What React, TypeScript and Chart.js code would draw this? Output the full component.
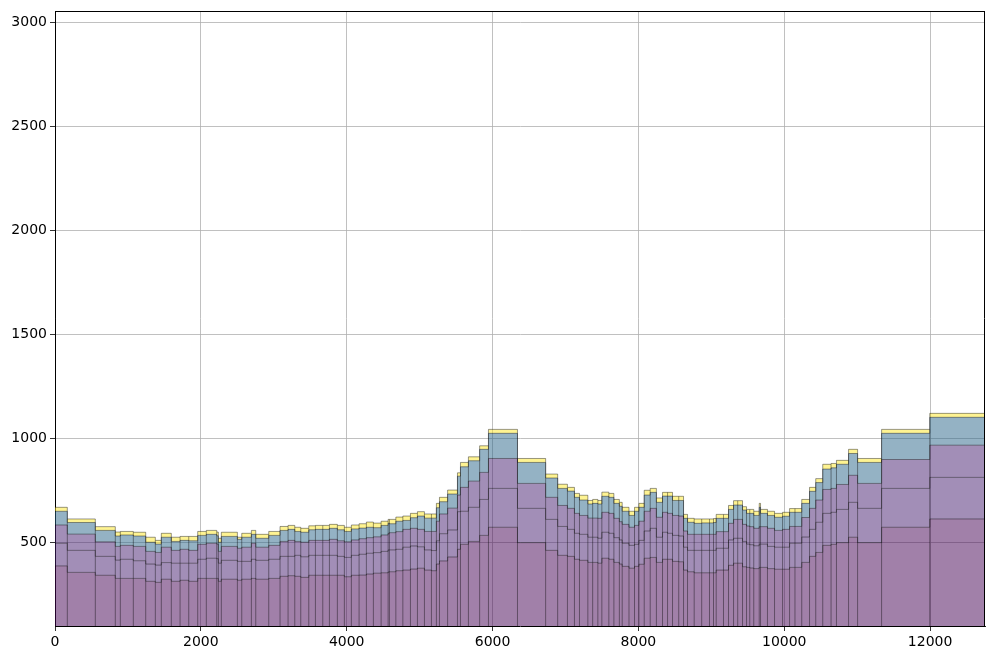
import React, { useEffect, useRef } from "react";
import { Chart, registerables } from "chart.js";

Chart.register(...registerables);

// Bin edges (x values) of the variable-width bars
const BIN_EDGES = [
  0, 169, 553, 827, 896, 1074, 1244, 1376, 1458, 1595, 1715, 1834, 1957, 2075, 2218, 2240, 2281, 2501, 2561, 2693,
  2753, 2931, 3086, 3196, 3288, 3370, 3480, 3571, 3672, 3763, 3872, 3968, 4064, 4170, 4270, 4366, 4472, 4568, 4586,
  4674, 4770, 4874, 4970, 5066, 5162, 5230, 5272, 5384, 5519, 5560, 5669, 5823, 5944, 6342, 6728, 6893, 7027, 7123,
  7192, 7307, 7373, 7444, 7499, 7595, 7664, 7739, 7778, 7871, 7947, 8007, 8080, 8162, 8247, 8331, 8400, 8468, 8553,
  8619, 8674, 8765, 8868, 8975, 9030, 9067, 9167, 9236, 9305, 9362, 9428, 9483, 9527, 9582, 9657, 9675, 9770, 9867,
  9977, 10073, 10147, 10240, 10347, 10432, 10528, 10642, 10716, 10882, 11006, 11335, 11996, 12753,
];

// Stacked series values (bottom to top), one value per bar
const SERIES_1 = [
  385, 354, 340, 325, 325, 325, 311, 306, 321, 311, 316, 311, 325, 325, 325, 311, 321, 316, 321, 325,
  321, 325, 335, 338, 335, 330, 340, 340, 340, 340, 340, 333, 340, 341, 346, 350, 352, 356, 357,
  362, 365, 370, 374, 365, 362, 394, 409, 428, 465, 489, 503, 532, 571, 497, 460, 436, 431, 417,
  412, 402, 402, 398, 422, 417, 402, 394, 383, 374, 383, 393, 422, 426, 402, 417, 417, 407, 405,
  365, 357, 352, 352, 352, 352, 365, 365, 388, 398, 398, 381, 378, 375, 372, 378, 378, 372, 369,
  369, 378, 378, 402, 431, 450, 484, 489, 497, 523, 497, 571, 611,
];
const SERIES_2 = [
  109, 106, 91, 88, 92, 85, 83, 83, 80, 87, 82, 87, 92, 97, 95, 87, 91, 91, 86, 92,
  91, 92, 96, 93, 101, 99, 96, 96, 96, 96, 91, 93, 96, 100, 100, 99, 103, 106, 105,
  103, 110, 111, 103, 97, 97, 112, 131, 130, 181, 159, 164, 173, 187, 165, 149, 139, 130, 125,
  125, 121, 121, 120, 125, 125, 119, 116, 111, 110, 106, 115, 131, 140, 121, 130, 125, 125, 124,
  110, 103, 108, 108, 108, 108, 105, 105, 122, 120, 120, 122, 112, 112, 110, 112, 112, 107, 106,
  106, 116, 116, 122, 130, 145, 154, 154, 160, 168, 165, 187, 200,
];
const SERIES_3 = [
  88, 78, 70, 66, 67, 69, 61, 61, 74, 62, 67, 62, 72, 72, 70, 57, 67, 63, 68, 77,
  63, 67, 72, 77, 67, 70, 72, 72, 72, 77, 75, 75, 74, 75, 75, 76, 79, 80, 83,
  85, 86, 85, 84, 89, 92, 94, 95, 105, 80, 115, 126, 130, 144, 120, 106, 101, 101, 96,
  91, 92, 92, 96, 96, 96, 93, 88, 91, 87, 91, 92, 95, 96, 96, 96, 96, 96, 96,
  78, 77, 77, 77, 77, 77, 80, 80, 80, 91, 91, 82, 87, 87, 84, 84, 84, 87, 81,
  86, 81, 81, 94, 101, 107, 115, 115, 120, 130, 120, 139, 155,
];
const SERIES_4 = [
  66, 56, 55, 50, 50, 50, 44, 40, 48, 43, 43, 46, 43, 43, 40, 44, 48, 43, 48, 43,
  43, 48, 53, 53, 48, 48, 51, 53, 53, 53, 53, 50, 53, 51, 50, 44, 46, 48, 43,
  50, 43, 51, 64, 64, 64, 65, 59, 68, 91, 99, 98, 111, 121, 101, 93, 82, 83, 77,
  74, 68, 71, 69, 77, 77, 72, 74, 63, 57, 68, 67, 78, 77, 72, 78, 83, 72, 75,
  61, 58, 53, 55, 55, 57, 64, 64, 67, 69, 69, 69, 61, 64, 62, 93, 64, 62, 63,
  63, 68, 68, 68, 82, 84, 98, 99, 97, 105, 101, 126, 134,
];
const SERIES_5 = [
  19, 17, 18, 19, 17, 18, 24, 18, 19, 20, 19, 21, 19, 19, 18, 19, 20, 10, 19, 19,
  19, 19, 19, 19, 20, 19, 19, 19, 19, 19, 21, 20, 19, 21, 25, 22, 20, 19, 21,
  20, 21, 21, 21, 20, 20, 21, 21, 19, 16, 21, 19, 17, 19, 19, 19, 20, 18, 19,
  23, 17, 19, 17, 20, 19, 19, 19, 19, 20, 19, 19, 23, 19, 21, 18, 18, 20, 20,
  19, 19, 21, 19, 19, 19, 19, 19, 19, 21, 21, 16, 19, 19, 20, 19, 19, 20, 19,
  19, 18, 18, 19, 19, 19, 23, 21, 19, 20, 19, 19, 19,
];

const SERIES = [SERIES_1, SERIES_2, SERIES_3, SERIES_4, SERIES_5];
const SERIES_COLORS = [
  "rgba(68, 1, 84, 0.5)",
  "rgba(70, 30, 112, 0.5)",
  "rgba(70, 30, 112, 0.5)",
  "rgba(42, 102, 138, 0.5)",
  "rgba(253, 231, 37, 0.5)",
];
const EDGE_COLOR = "rgba(0, 0, 0, 0.4)";

const X_TICKS = [0, 2000, 4000, 6000, 8000, 10000, 12000];
const Y_TICKS = [500, 1000, 1500, 2000, 2500, 3000];
const X_MIN = 0;
const X_MAX = 12753;
const Y_MIN = 96;
const Y_MAX = 3053;

const FONT = { family: "'DejaVu Sans', sans-serif", size: 14 };

function stepPoints(vals: number[]) {
  const pts = vals.map((v, i) => ({ x: BIN_EDGES[i], y: v }));
  pts.push({ x: BIN_EDGES[vals.length], y: vals[vals.length - 1] });
  return pts;
}

function edgePoints() {
  const n = SERIES_1.length;
  const totals = SERIES_1.map((_, i) => SERIES.reduce((s, arr) => s + arr[i], 0));
  const pts: { x: number; y: number | null }[] = [];
  for (let j = 1; j < n; j++) {
    const h = Math.min(totals[j - 1], totals[j]);
    pts.push({ x: BIN_EDGES[j], y: 0 });
    pts.push({ x: BIN_EDGES[j], y: h });
    pts.push({ x: BIN_EDGES[j], y: null });
  }
  return pts;
}

const framePlugin = {
  id: "frame",
  afterDraw(chart: any) {
    const { ctx, chartArea: a } = chart;
    ctx.save();
    ctx.strokeStyle = "#000";
    ctx.lineWidth = 1;
    ctx.beginPath();
    ctx.moveTo(Math.round(a.left), Math.round(a.top) + 0.5);
    ctx.lineTo(Math.round(a.right), Math.round(a.top) + 0.5);
    ctx.moveTo(Math.round(a.right) - 0.5, Math.round(a.top));
    ctx.lineTo(Math.round(a.right) - 0.5, Math.round(a.bottom));
    ctx.stroke();
    ctx.restore();
  },
};

export default function App() {
  const ref = useRef<HTMLCanvasElement | null>(null);

  useEffect(() => {
    if (!ref.current) return;
    const layerSets = SERIES.map((vals, k) => ({
      type: "line" as const,
      data: stepPoints(vals),
      stepped: "before" as const,
      fill: k === 0 ? "start" : "-1",
      backgroundColor: SERIES_COLORS[k],
      borderColor: EDGE_COLOR,
      borderWidth: 1,
      pointRadius: 0,
      yAxisID: "y",
      order: 1,
    }));
    const edgeSet = {
      type: "line" as const,
      data: edgePoints(),
      fill: false,
      borderColor: EDGE_COLOR,
      borderWidth: 1,
      pointRadius: 0,
      spanGaps: false,
      yAxisID: "yEdge",
      order: -1,
    };

    const gridCommon = {
      color: "#b0b0b0",
      lineWidth: 0.8,
      tickColor: "#000",
      tickLength: 5,
      drawTicks: true,
    };

    const chart = new Chart(ref.current, {
      type: "line",
      data: { datasets: [...layerSets, edgeSet] as any },
      options: {
        responsive: false,
        animation: false,
        devicePixelRatio: 1,
        layout: { padding: { left: 0, right: 10, top: 10, bottom: 0 } },
        plugins: {
          legend: { display: false },
          tooltip: { enabled: false },
        },
        elements: { point: { radius: 0 }, line: { tension: 0 } },
        scales: {
          x: {
            type: "linear",
            min: X_MIN,
            max: X_MAX,
            z: 1,
            grid: gridCommon,
            border: { color: "#000", width: 1 },
            afterBuildTicks: (s: any) => {
              s.ticks = X_TICKS.map((v) => ({ value: v }));
            },
            afterFit: (s: any) => {
              s.height = 33;
            },
            ticks: {
              color: "#000",
              font: FONT,
              padding: 3,
              maxRotation: 0,
              autoSkip: false,
              callback: (v: any) => String(v),
            },
          },
          y: {
            type: "linear",
            stacked: true,
            min: Y_MIN,
            max: Y_MAX,
            z: 1,
            grid: gridCommon,
            border: { color: "#000", width: 1 },
            afterBuildTicks: (s: any) => {
              s.ticks = Y_TICKS.map((v) => ({ value: v }));
            },
            afterFit: (s: any) => {
              s.width = 55;
            },
            ticks: {
              color: "#000",
              font: FONT,
              padding: 3,
              callback: (v: any) => String(v),
            },
          },
          yEdge: {
            type: "linear",
            display: false,
            min: Y_MIN,
            max: Y_MAX,
          },
        },
      } as any,
      plugins: [framePlugin],
    });
    return () => chart.destroy();
  }, []);

  return (
    <div style={{ position: "absolute", left: 0, top: 0, width: 995, height: 659 }}>
      <canvas ref={ref} width={995} height={659} style={{ width: 995, height: 659 }} />
    </div>
  );
}
